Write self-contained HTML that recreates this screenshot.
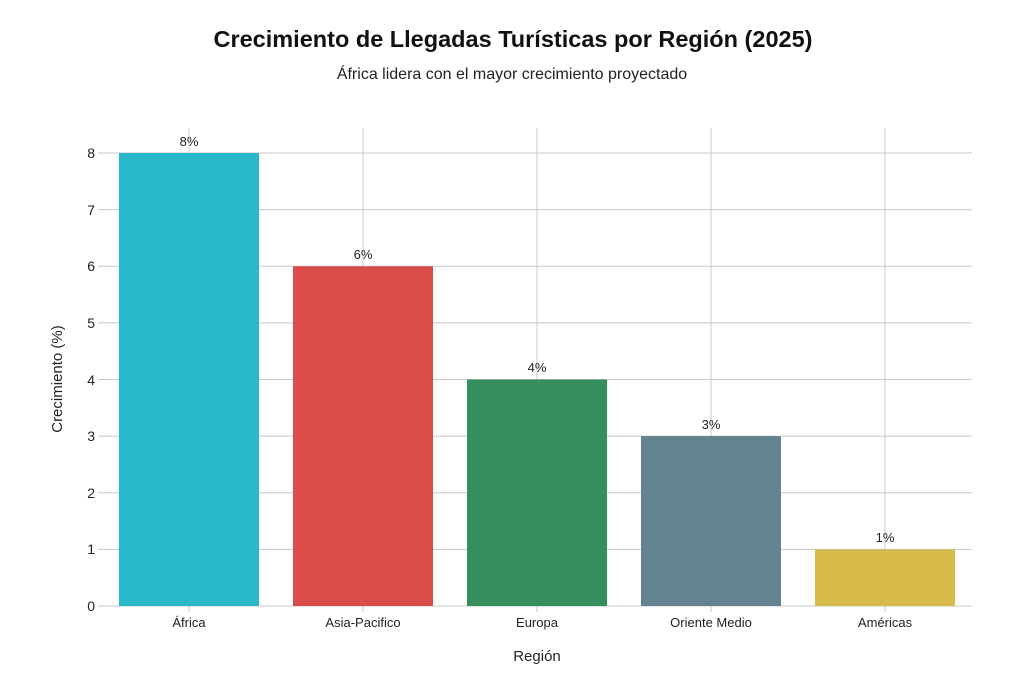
<!DOCTYPE html><html><head><style>body{margin:0;background:#fff}svg{display:block;font-family:"Liberation Sans",sans-serif}</style></head><body>
<svg width="1024" height="683" viewBox="0 0 1024 683">
<rect width="1024" height="683" fill="#fff"/>
<text x="513" y="47" text-anchor="middle" font-size="23.5" font-weight="bold" fill="#111">Crecimiento de Llegadas Turísticas por Región (2025)</text>
<text x="512" y="79" text-anchor="middle" font-size="16" fill="#222">África lidera con el mayor crecimiento proyectado</text>
<g stroke="#c8c8c8" stroke-width="1">
<line x1="98" x2="972" y1="606" y2="606"/><line x1="98" x2="972" y1="549.4" y2="549.4"/><line x1="98" x2="972" y1="492.8" y2="492.8"/><line x1="98" x2="972" y1="436.1" y2="436.1"/><line x1="98" x2="972" y1="379.5" y2="379.5"/><line x1="98" x2="972" y1="322.9" y2="322.9"/><line x1="98" x2="972" y1="266.3" y2="266.3"/><line x1="98" x2="972" y1="209.6" y2="209.6"/><line x1="98" x2="972" y1="153" y2="153"/>
<line x1="189" x2="189" y1="128" y2="612"/><line x1="363" x2="363" y1="128" y2="612"/><line x1="537" x2="537" y1="128" y2="612"/><line x1="711" x2="711" y1="128" y2="612"/><line x1="885" x2="885" y1="128" y2="612"/>
</g>
<rect x="119" y="153" width="140" height="453" fill="#27b8ca"/>
<rect x="293" y="266.3" width="140" height="339.7" fill="#d94c4a"/>
<rect x="467" y="379.5" width="140" height="226.5" fill="#358e5c"/>
<rect x="641" y="436.1" width="140" height="169.9" fill="#62838f"/>
<rect x="815" y="549.4" width="140" height="56.6" fill="#d6bb4b"/>
<g font-size="13" fill="#222" text-anchor="middle">
<text x="189" y="146">8%</text><text x="363" y="259">6%</text><text x="537" y="372">4%</text><text x="711" y="429">3%</text><text x="885" y="542">1%</text>
<text x="189" y="627">África</text><text x="363" y="627">Asia-Pacifico</text><text x="537" y="627">Europa</text><text x="711" y="627">Oriente Medio</text><text x="885" y="627">Américas</text>
</g>
<g font-size="14" fill="#222" text-anchor="end">
<text x="95" y="611">0</text><text x="95" y="554">1</text><text x="95" y="498">2</text><text x="95" y="441">3</text><text x="95" y="385">4</text><text x="95" y="328">5</text><text x="95" y="271">6</text><text x="95" y="215">7</text><text x="95" y="158">8</text>
</g>
<text x="537" y="661" text-anchor="middle" font-size="15" fill="#222">Región</text>
<text transform="translate(62,379) rotate(-90)" text-anchor="middle" font-size="15" fill="#222">Crecimiento (%)</text>
</svg></body></html>
